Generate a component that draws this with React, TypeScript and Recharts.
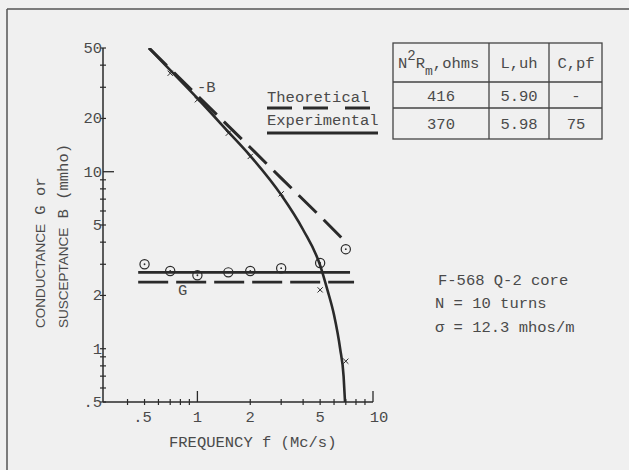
import React from 'react';
import { ComposedChart, Line, Scatter, XAxis, YAxis } from 'recharts';

// Tick values
const xTicksMajor = [0.5, 1, 2, 5, 10];
const xTicksMinor = [0.4, 0.6, 0.7, 0.8, 0.9, 3, 4, 6, 7, 8, 9];
const yTicksMajor = [0.5, 1, 2, 5, 10, 20, 50];
const yTicksMinor = [0.6, 0.7, 0.8, 0.9, 3, 4, 6, 7, 8, 9, 30, 40];

// Theoretical -B (dashed)
const theoBFreq = [0.53, 1, 2, 3, 5, 7.0];
const theoBVal = [50, 26.9, 13.7, 9.2, 5.6, 4.0];

// Experimental -B (solid curve)
const expBFreq = [0.53, 0.7, 1, 1.5, 2, 3, 4, 5, 5.5, 6, 6.5, 6.8, 6.93];
const expBVal = [50, 37.5, 26.0, 16.8, 12.3, 7.4, 4.7, 2.96, 2.15, 1.55, 1.0, 0.7, 0.5];

// Measured -B points (x markers)
const measBFreq = [0.7, 1, 1.5, 2, 3, 5, 7];
const measBVal = [36, 25.5, 16.5, 12.2, 7.5, 2.15, 0.85];

// Measured G points (circle markers)
const measGFreq = [0.5, 0.7, 1, 1.5, 2, 3, 5, 7];
const measGVal = [3.0, 2.75, 2.6, 2.7, 2.75, 2.85, 3.05, 3.65];

// G lines
const expGFreq = [0.46, 7.4];
const expGVal = [2.7, 2.7];
const theoGFreq = [0.46, 7.8];
const theoGVal = [2.38, 2.38];

const toPts = (xs: number[], ys: number[]) => xs.map((x, i) => ({ x, y: ys[i] }));

const theoB = toPts(theoBFreq, theoBVal);
const expB = toPts(expBFreq, expBVal);
const measB = toPts(measBFreq, measBVal);
const measG = toPts(measGFreq, measGVal);
const expG = toPts(expGFreq, expGVal);
const theoG = toPts(theoGFreq, theoGVal);

const MONO = '"Liberation Mono", "DejaVu Sans Mono", monospace';
const SANS = '"Liberation Sans", "DejaVu Sans", sans-serif';
const TXT = '#4a4a4a';
const INK = '#2a2a2a';

const fmt = (v: number) => (v < 1 ? String(v).replace(/^0/, '') : String(v));

const XTick = (props: any) => {
  const { x, y, payload } = props;
  const v = payload.value;
  const major = xTicksMajor.includes(v);
  const long = v === 1 || v === 10;
  return (
    <g>
      {long ? (
        <line x1={x} x2={x} y1={y - 11} y2={y} stroke={INK} strokeWidth={1.3} />
      ) : (
        <line x1={x} x2={x} y1={y - 3} y2={y + 3} stroke={INK} strokeWidth={1.2} />
      )}
      {major && (
        <text
          x={v === 10 ? x + 6 : v === 0.5 ? x - 2 : x}
          y={y + 20}
          textAnchor="middle"
          fontFamily={MONO}
          fontSize={15.5}
          fill={TXT}
        >
          {fmt(v)}
        </text>
      )}
    </g>
  );
};

const YTick = (props: any) => {
  const { x, y, payload } = props;
  const v = payload.value;
  const major = yTicksMajor.includes(v);
  return (
    <g>
      {v === 10 ? (
        <line x1={x} x2={x + 11} y1={y} y2={y} stroke={INK} strokeWidth={1.3} />
      ) : (
        <line x1={x - 3} x2={x + 3} y1={y} y2={y} stroke={INK} strokeWidth={1.2} />
      )}
      {major && (
        <text x={x - 1} y={y + 5} textAnchor="end" fontFamily={MONO} fontSize={15.5} fill={TXT}>
          {fmt(v)}
        </text>
      )}
    </g>
  );
};

const Cross = (props: any) => {
  const { cx, cy } = props;
  const s = 2.6;
  return (
    <g stroke={INK} strokeWidth={1}>
      <line x1={cx - s} y1={cy - s} x2={cx + s} y2={cy + s} />
      <line x1={cx - s} y1={cy + s} x2={cx + s} y2={cy - s} />
    </g>
  );
};

const DotCircle = (props: any) => {
  const { cx, cy } = props;
  return (
    <g>
      <circle cx={cx} cy={cy} r={4.6} fill="none" stroke={INK} strokeWidth={1.2} />
      <circle cx={cx} cy={cy} r={0.9} fill={INK} />
    </g>
  );
};

export default function App() {
  return (
    <div
      style={{
        position: 'absolute',
        left: 0,
        top: 0,
        width: 629,
        height: 470,
        background: '#f0f0f0',
        overflow: 'hidden',
      }}
    >
      <ComposedChart
        width={629}
        height={470}
        margin={{ top: 48, right: 256, bottom: 38, left: 63 }}
      >
        <XAxis
          dataKey="x"
          type="number"
          scale="log"
          domain={[0.29, 10]}
          allowDataOverflow
          ticks={[...xTicksMajor, ...xTicksMinor].sort((a, b) => a - b)}
          interval={0}
          tick={<XTick />}
          tickLine={false}
          tickSize={0}
          tickMargin={0}
          height={30}
          axisLine={{ stroke: INK, strokeWidth: 1.5 }}
        />
        <YAxis
          type="number"
          scale="log"
          domain={[0.5, 50]}
          allowDataOverflow
          ticks={[...yTicksMajor, ...yTicksMinor].sort((a, b) => a - b)}
          interval={0}
          tick={<YTick />}
          tickLine={false}
          tickSize={0}
          tickMargin={0}
          width={40}
          axisLine={{ stroke: INK, strokeWidth: 1.5 }}
        />
        <Line
          data={theoB}
          dataKey="y"
          type="linear"
          stroke={INK}
          strokeWidth={3}
          strokeDasharray="25 10"
          dot={false}
          isAnimationActive={false}
        />
        <Line
          data={expB}
          dataKey="y"
          type="monotone"
          stroke={INK}
          strokeWidth={2.6}
          dot={false}
          isAnimationActive={false}
        />
        <Line
          data={expG}
          dataKey="y"
          type="linear"
          stroke={INK}
          strokeWidth={2.8}
          dot={false}
          isAnimationActive={false}
        />
        <Line
          data={theoG}
          dataKey="y"
          type="linear"
          stroke={INK}
          strokeWidth={2.8}
          strokeDasharray="30 8"
          dot={false}
          isAnimationActive={false}
        />
        <Scatter data={measB} dataKey="y" shape={<Cross />} isAnimationActive={false} />
        <Scatter data={measG} dataKey="y" shape={<DotCircle />} isAnimationActive={false} />
      </ComposedChart>

      <svg
        width={629}
        height={470}
        style={{ position: 'absolute', left: 0, top: 0, pointerEvents: 'none' }}
      >
        {/* frame */}
        <line x1={7} y1={9} x2={629} y2={9} stroke="#555" strokeWidth={1.5} />
        <line x1={7} y1={9} x2={7} y2={470} stroke="#555" strokeWidth={1.5} />

        {/* curve labels */}
        <text x={197} y={92} fontFamily={MONO} fontSize={15.5} fill={TXT}>-B</text>
        <text x={178} y={295} fontFamily={MONO} fontSize={15.5} fill={TXT}>G</text>

        {/* axis titles */}
        <text x={169} y={447} fontFamily={MONO} fontSize={15.5} fill={TXT}>
          FREQUENCY f (Mc/s)
        </text>
        <text transform="translate(45,328) rotate(-90)" fill={TXT}>
          <tspan fontFamily={SANS} fontSize={13.5}>CONDUCTANCE</tspan>
          <tspan fontFamily={MONO} fontSize={15.5}> G or</tspan>
        </text>
        <text transform="translate(68,328) rotate(-90)" fill={TXT}>
          <tspan fontFamily={SANS} fontSize={13.5}>SUSCEPTANCE</tspan>
          <tspan fontFamily={MONO} fontSize={15.5}> B (mmho)</tspan>
        </text>

        {/* legend table */}
        <g stroke="#444" strokeWidth={1.3} fill="none">
          <rect x={393} y={43} width={209} height={96} />
          <line x1={393} y1={82} x2={602} y2={82} />
          <line x1={393} y1={108} x2={602} y2={108} />
          <line x1={489} y1={43} x2={489} y2={139} />
          <line x1={549} y1={43} x2={549} y2={139} />
        </g>
        <g fontFamily={MONO} fontSize={15.5} fill={TXT}>
          <text x={398} y={68}>
            <tspan>N</tspan>
            <tspan dy={-8} fontSize={14}>2</tspan>
            <tspan dy={8}>R</tspan>
            <tspan dy={7} fontSize={13}>m</tspan>
            <tspan dy={-7}>,ohms</tspan>
          </text>
          <text x={519} y={68} textAnchor="middle">L,uh</text>
          <text x={576} y={68} textAnchor="middle">C,pf</text>
          <text x={441} y={101} textAnchor="middle">416</text>
          <text x={519} y={101} textAnchor="middle">5.90</text>
          <text x={576} y={101} textAnchor="middle">-</text>
          <text x={441} y={129} textAnchor="middle">370</text>
          <text x={519} y={129} textAnchor="middle">5.98</text>
          <text x={576} y={129} textAnchor="middle">75</text>

          <text x={267} y={102}>Theoretical</text>
          <text x={267} y={125}>Experimental</text>

          <text x={438} y={285}>F-568 Q-2 core</text>
          <text x={435} y={308}>N = 10 turns</text>
          <text x={435} y={332}>σ = 12.3 mhos/m</text>
        </g>
        <g stroke={INK} strokeWidth={3}>
          <line x1={267} y1={108} x2={292} y2={108} />
          <line x1={303} y1={108} x2={328} y2={108} />
          <line x1={345} y1={108} x2={370} y2={108} />
          <line x1={267} y1={133} x2={378} y2={133} />
        </g>
      </svg>
    </div>
  );
}
